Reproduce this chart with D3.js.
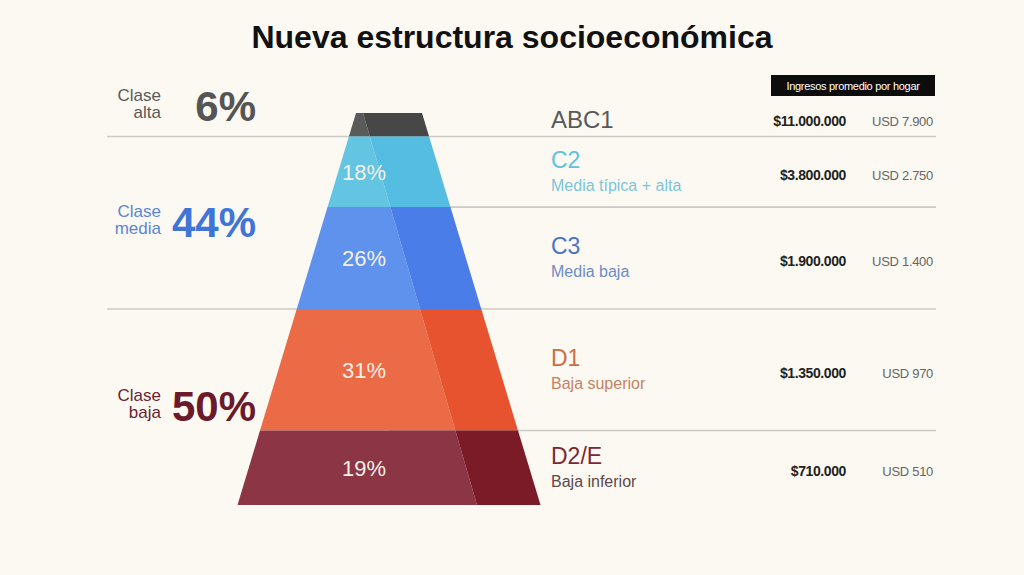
<!DOCTYPE html>
<html>
<head>
<meta charset="utf-8">
<script src="https://d3js.org/d3.v7.min.js"></script>
<style>
  body { margin: 0; background: #fbf9f1; }
  svg { display: block; font-family: "Liberation Sans", Arial, sans-serif; }
</style>
</head>
<body>
<div id="chart"></div>
<script>
// Data
var segments = ["ABC1", "C2", "C3", "D1", "D2/E"];
var subtitles = ["", "Media típica + alta", "Media baja", "Baja superior", "Baja inferior"];
var shares = [6, 18, 26, 31, 19];
var incomeArs = ["$11.000.000", "$3.800.000", "$1.900.000", "$1.350.000", "$710.000"];
var incomeUsd = ["USD 7.900", "USD 2.750", "USD 1.400", "USD 970", "USD 510"];
var classNames = ["alta", "media", "baja"];
var classShares = [6, 44, 50];

// colours per segment (left face / right face / text)
var faceLight = ["#5a5a5a", "#63c5e2", "#5f92ec", "#ec6b47", "#8b3545"];
var faceDark = ["#474747", "#55bde2", "#4a7de8", "#e8532f", "#7a1b27"];
var segColor = ["#595959", "#62c1dc", "#4a74c6", "#cf6c46", "#7a2838"];
var subColor = ["#595959", "#7cc5da", "#6e8cc6", "#c58265", "#5c4a4c"];
var classColor = ["#5a5a5a", "#5a86d8", "#6b2332"];
var classBig = ["#555555", "#3f75d9", "#6a1a2a"];

var width = 1024;
var height = 575;

var svg = d3.select("#chart")
    .append("svg")
    .attr("width", width)
    .attr("height", height);

svg.append("rect")
    .attr("width", width)
    .attr("height", height)
    .attr("fill", "#fbf9f1");

// Title
svg.append("text")
    .attr("x", 512)
    .attr("y", 48)
    .attr("text-anchor", "middle")
    .attr("font-size", 32)
    .attr("font-weight", "bold")
    .attr("fill", "#111")
    .text("Nueva estructura socioeconómica");

// Scales: share (cumulative %) -> vertical position, half width, split of the faces
var cx = 389;
var y = d3.scaleLinear().domain([0, 100]).range([113, 505]);
var halfW = d3.scaleLinear().domain([0, 100]).range([33, 151.5]);
var split = d3.scaleLinear().domain([0, 100]).range([363, 477]);

var ends = d3.cumsum(shares);
var starts = shares.map(function (d, i) { return ends[i] - d; });
var classEnds = d3.cumsum(classShares);

// Separator lines (behind the pyramid)
var lineLeft = 107;
var lineRight = 936;
svg.append("g")
    .selectAll("line")
    .data(ends.slice(0, -1))
    .join("line")
    .attr("x1", function (d) { return classEnds.indexOf(d) >= 0 ? lineLeft : cx; })
    .attr("x2", lineRight)
    .attr("y1", function (d) { return y(d); })
    .attr("y2", function (d) { return y(d); })
    .attr("stroke", "#cbcac4")
    .attr("stroke-width", 1.6);

// Pyramid faces
var line = d3.line();
var pyr = svg.append("g");

pyr.selectAll("path.left")
    .data(shares)
    .join("path")
    .attr("class", "left")
    .attr("fill", function (d, i) { return faceLight[i]; })
    .attr("d", function (d, i) {
        var s = starts[i], e = ends[i];
        return line([
            [cx - halfW(s), y(s)], [split(s), y(s)],
            [split(e), y(e)], [cx - halfW(e), y(e)]
        ]) + "Z";
    });

pyr.selectAll("path.right")
    .data(shares)
    .join("path")
    .attr("class", "right")
    .attr("fill", function (d, i) { return faceDark[i]; })
    .attr("d", function (d, i) {
        var s = starts[i], e = ends[i];
        return line([
            [split(s), y(s)], [cx + halfW(s), y(s)],
            [cx + halfW(e), y(e)], [split(e), y(e)]
        ]) + "Z";
    });

// Percent inside pyramid (top segment is too small)
pyr.selectAll("text")
    .data(shares.slice(1))
    .join("text")
    .attr("x", cx - 25)
    .attr("y", function (d, i) { return (y(starts[i + 1]) + y(ends[i + 1])) / 2 + 8; })
    .attr("text-anchor", "middle")
    .attr("font-size", 22)
    .attr("fill", "#f5efe6")
    .text(function (d) { return d + "%"; });

// Class labels on the left
var cls = svg.append("g")
    .selectAll("g")
    .data(classShares)
    .join("g")
    .attr("transform", function (d, i) {
        var top = y(classEnds[i] - d), bot = y(classEnds[i]);
        var base = Math.min((top + bot) / 2 + 14, bot - 16);
        return "translate(0," + base + ")";
    });

cls.append("text")
    .attr("x", 256)
    .attr("text-anchor", "end")
    .attr("font-size", 42)
    .attr("font-weight", "bold")
    .attr("fill", function (d, i) { return classBig[i]; })
    .text(function (d) { return d + "%"; });

cls.append("text")
    .attr("x", 161)
    .attr("y", -20)
    .attr("text-anchor", "end")
    .attr("font-size", 17)
    .attr("fill", function (d, i) { return classColor[i]; })
    .text("Clase");

cls.append("text")
    .attr("x", 161)
    .attr("y", -3)
    .attr("text-anchor", "end")
    .attr("font-size", 17)
    .attr("fill", function (d, i) { return classColor[i]; })
    .text(function (d, i) { return classNames[i]; });

// Segment names and incomes on the right
var seg = svg.append("g")
    .selectAll("g")
    .data(segments)
    .join("g")
    .attr("transform", function (d, i) {
        return "translate(0," + (y(starts[i]) + y(ends[i])) / 2 + ")";
    });

seg.append("text")
    .attr("x", 551)
    .attr("y", function (d, i) { return subtitles[i] ? -4 : 3; })
    .attr("font-size", function (d, i) { return i === 0 ? 24 : 23; })
    .attr("fill", function (d, i) { return segColor[i]; })
    .text(function (d) { return d; });

seg.append("text")
    .attr("x", 551)
    .attr("y", 19)
    .attr("font-size", 16)
    .attr("fill", function (d, i) { return subColor[i]; })
    .text(function (d, i) { return subtitles[i]; });

seg.append("text")
    .attr("x", 846)
    .attr("y", function (d, i) { return subtitles[i] ? 8 : 1; })
    .attr("text-anchor", "end")
    .attr("font-size", 14)
    .attr("font-weight", "bold")
    .attr("letter-spacing", -0.4)
    .attr("fill", "#222")
    .text(function (d, i) { return incomeArs[i]; });

seg.append("text")
    .attr("x", 933)
    .attr("y", function (d, i) { return subtitles[i] ? 8 : 1; })
    .attr("text-anchor", "end")
    .attr("font-size", 13)
    .attr("letter-spacing", -0.3)
    .attr("fill", "#666")
    .text(function (d, i) { return incomeUsd[i]; });

// Header box for incomes
svg.append("rect")
    .attr("x", 771)
    .attr("y", 75)
    .attr("width", 164)
    .attr("height", 21)
    .attr("fill", "#0d0d0d");

svg.append("text")
    .attr("x", 853)
    .attr("y", 89.5)
    .attr("text-anchor", "middle")
    .attr("font-size", 11)
    .attr("letter-spacing", -0.3)
    .attr("fill", "#fff")
    .text("Ingresos promedio por hogar");
</script>
</body>
</html>
